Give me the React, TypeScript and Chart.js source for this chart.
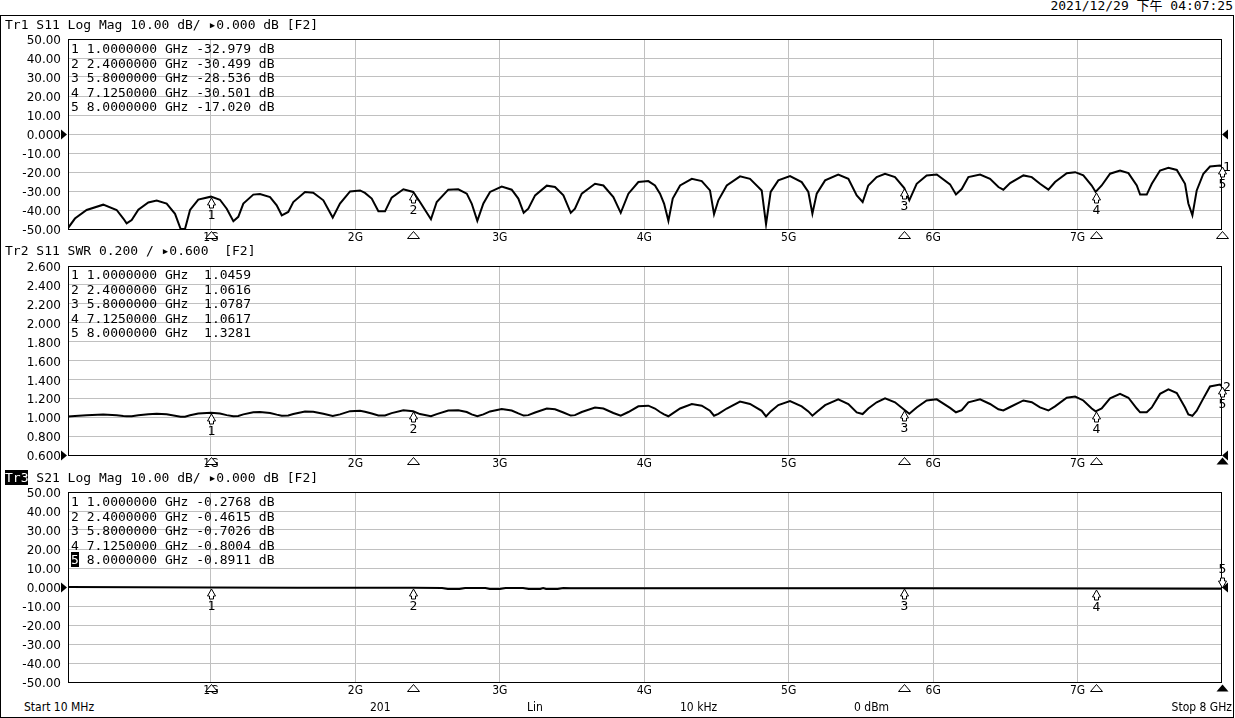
import React, { useEffect, useRef } from "react";
import { Chart, registerables } from "chart.js";

Chart.register(...registerables);

// ---------------- DATA ----------------
// Sweep frequencies (GHz) read off trace 1 / trace 2
const freqGHz = [
  0.01, 0.058, 0.139, 0.254, 0.347, 0.393, 0.416, 0.451, 0.497, 0.566,
  0.624, 0.693, 0.751, 0.79, 0.82, 0.855, 0.912, 1.0, 1.062, 1.109,
  1.155, 1.189, 1.224, 1.293, 1.339, 1.409, 1.455, 1.49, 1.535, 1.57,
  1.651, 1.708, 1.778, 1.843, 1.893, 1.963, 2.032, 2.066, 2.113, 2.159,
  2.205, 2.251, 2.332, 2.4, 2.447, 2.523, 2.563, 2.643, 2.712, 2.771,
  2.805, 2.844, 2.886, 2.932, 3.013, 3.082, 3.128, 3.165, 3.197, 3.244,
  3.325, 3.382, 3.44, 3.491, 3.52, 3.567, 3.659, 3.717, 3.786, 3.837,
  3.89, 3.959, 4.028, 4.074, 4.109, 4.137, 4.167, 4.197, 4.248, 4.329,
  4.398, 4.455, 4.483, 4.513, 4.571, 4.663, 4.732, 4.813, 4.843, 4.875,
  4.928, 5.009, 5.09, 5.136, 5.164, 5.194, 5.252, 5.343, 5.413, 5.471,
  5.512, 5.551, 5.609, 5.667, 5.736, 5.8, 5.835, 5.886, 5.955, 6.025,
  6.117, 6.158, 6.198, 6.244, 6.325, 6.394, 6.452, 6.486, 6.533, 6.625,
  6.683, 6.74, 6.798, 6.844, 6.925, 6.983, 7.04, 7.098, 7.125, 7.167,
  7.225, 7.294, 7.352, 7.41, 7.433, 7.479, 7.514, 7.571, 7.629, 7.687,
  7.744, 7.767, 7.795, 7.825, 7.871, 7.917, 7.986, 8.0,
];

// Tr1: S11 log magnitude (dB)
const s11Db = [
  -49.5, -44.5, -40.0, -37.2, -40.0, -44.5, -47.0, -45.3, -39.8, -36.0,
  -35.0, -36.6, -42.0, -50.0, -50.0, -40.0, -34.5, -32.98, -34.6, -39.3,
  -45.9, -43.6, -36.6, -31.9, -31.6, -33.2, -37.5, -42.8, -41.0, -35.8,
  -30.5, -30.9, -34.9, -44.0, -36.6, -30.2, -29.7, -31.0, -34.0, -40.7,
  -40.7, -33.5, -29.1, -30.5, -35.8, -44.9, -35.8, -29.3, -29.1, -31.4,
  -36.6, -45.7, -36.6, -30.5, -27.7, -29.3, -34.0, -41.5, -39.3, -32.3,
  -27.2, -27.9, -32.3, -41.5, -39.3, -31.4, -26.2, -27.1, -33.2, -41.5,
  -31.4, -25.3, -24.8, -27.1, -31.4, -36.6, -45.7, -34.0, -27.1, -23.6,
  -24.8, -29.7, -42.2, -34.9, -27.1, -22.3, -23.6, -29.7, -47.5, -30.5,
  -24.4, -22.1, -25.3, -30.5, -41.9, -31.4, -24.4, -21.3, -23.6, -32.3,
  -35.8, -27.1, -22.7, -20.9, -22.7, -28.5, -34.9, -26.2, -21.8, -21.3,
  -26.5, -31.8, -29.0, -22.7, -21.3, -23.6, -27.9, -29.3, -25.8, -21.8,
  -22.7, -26.2, -29.3, -25.3, -20.6, -20.1, -21.8, -27.1, -30.5, -27.1,
  -20.9, -19.2, -20.6, -27.1, -31.9, -31.9, -26.2, -19.2, -17.8, -18.9,
  -26.2, -36.6, -42.8, -29.7, -20.9, -17.1, -16.6, -17.02,
];

// Tr2: S11 SWR
const swrVal = [
  1.007, 1.012, 1.02, 1.028, 1.02, 1.012, 1.009, 1.011, 1.021, 1.032,
  1.036, 1.03, 1.016, 1.006, 1.006, 1.02, 1.038, 1.046, 1.038, 1.022,
  1.01, 1.013, 1.03, 1.052, 1.054, 1.045, 1.027, 1.015, 1.018, 1.033,
  1.061, 1.058, 1.036, 1.013, 1.03, 1.064, 1.068, 1.058, 1.04, 1.019,
  1.019, 1.043, 1.073, 1.062, 1.033, 1.011, 1.033, 1.071, 1.073, 1.055,
  1.03, 1.01, 1.03, 1.061, 1.086, 1.071, 1.04, 1.017, 1.022, 1.05,
  1.091, 1.084, 1.05, 1.017, 1.022, 1.055, 1.103, 1.092, 1.045, 1.017,
  1.055, 1.115, 1.122, 1.092, 1.055, 1.03, 1.01, 1.04, 1.092, 1.14,
  1.122, 1.068, 1.016, 1.036, 1.092, 1.166, 1.14, 1.068, 1.008, 1.061,
  1.128, 1.17, 1.115, 1.061, 1.016, 1.055, 1.128, 1.189, 1.14, 1.05,
  1.033, 1.092, 1.158, 1.199, 1.158, 1.079, 1.036, 1.103, 1.177, 1.189,
  1.099, 1.052, 1.074, 1.158, 1.189, 1.14, 1.084, 1.071, 1.108, 1.177,
  1.158, 1.103, 1.071, 1.115, 1.206, 1.219, 1.177, 1.092, 1.062, 1.092,
  1.199, 1.247, 1.206, 1.092, 1.052, 1.052, 1.103, 1.247, 1.295, 1.256,
  1.103, 1.03, 1.015, 1.068, 1.199, 1.325, 1.345, 1.328,
];

// Tr3: S21 log magnitude (dB)
const s21FreqGHz = [
  0.01, 0.5, 1.0, 1.6, 2.4, 2.6, 2.64, 2.72, 2.76, 2.9, 2.93, 3.0, 3.04,
  3.16, 3.2, 3.28, 3.3, 3.32, 3.4, 3.44, 3.49, 4.5, 5.8, 7.125, 8.0,
];
const s21Db = [
  -0.03, -0.15, -0.28, -0.35, -0.46, -0.5, -1.0, -1.0, -0.5, -0.5, -1.0, -1.0, -0.5,
  -0.5, -1.0, -1.0, -0.55, -1.0, -1.0, -0.55, -0.7, -0.68, -0.7, -0.8, -0.89,
];

// Markers
const markerFreqGHz = [1.0, 2.4, 5.8, 7.125, 8.0];
const markerS11 = [-32.979, -30.499, -28.536, -30.501, -17.02];
const markerSwr = [1.0459, 1.0616, 1.0787, 1.0617, 1.3281];
const markerS21 = [-0.2768, -0.4615, -0.7026, -0.8004, -0.8911];

// Axis ticks
const xTickGHz = [1, 2, 3, 4, 5, 6, 7];
const xTickLabels = ["1G", "2G", "3G", "4G", "5G", "6G", "7G"];
const dbTicks = [-50, -40, -30, -20, -10, 0, 10, 20, 30, 40, 50];
const dbTickLabels = ["-50.00", "-40.00", "-30.00", "-20.00", "-10.00", "0.000", "10.00", "20.00", "30.00", "40.00", "50.00"];
const swrTicks = [0.6, 0.8, 1.0, 1.2, 1.4, 1.6, 1.8, 2.0, 2.2, 2.4, 2.6];
const swrTickLabels = ["0.600", "0.800", "1.000", "1.200", "1.400", "1.600", "1.800", "2.000", "2.200", "2.400", "2.600"];

// ---------------- STYLE ----------------
const MONO = "'DejaVu Sans Mono', monospace";
const YFONT = "'DejaVu Sans', sans-serif";
const NARROW = "'Liberation Sans Narrow', 'Arial Narrow', 'DejaVu Sans Condensed', sans-serif";
const GRID = "#c0c0c0";

type PanelOpts = {
  freq: number[];
  vals: number[];
  ticks: number[];
  tickLabels: string[];
  markerVals: number[];
  refValue: number;
  activeIdx: number;
  traceLabel: string;
  filledEnd: boolean;
};

function overlayPlugin(p: PanelOpts) {
  return {
    id: "vnaOverlay",
    afterDraw(chart: any) {
      const { ctx, chartArea } = chart;
      const { left, right, top, bottom } = chartArea;
      const xs = chart.scales.x;
      const ys = chart.scales.y;
      ctx.save();
      ctx.strokeStyle = "#000";
      ctx.lineWidth = 1;
      ctx.strokeRect(left + 0.5, top + 0.5, right - left - 1, bottom - top);

      // reference arrows
      const ry = Math.round(ys.getPixelForValue(p.refValue)) + 0.5;
      ctx.fillStyle = "#000";
      ctx.beginPath();
      ctx.moveTo(left - 7, ry - 5);
      ctx.lineTo(left - 7, ry + 5);
      ctx.lineTo(left - 1, ry);
      ctx.closePath();
      ctx.fill();
      ctx.beginPath();
      ctx.moveTo(right + 6, ry - 5);
      ctx.lineTo(right + 6, ry + 5);
      ctx.lineTo(right, ry);
      ctx.closePath();
      ctx.fill();

      ctx.font = "13px " + MONO;
      ctx.textAlign = "center";
      ctx.textBaseline = "middle";
      markerFreqGHz.forEach((f, i) => {
        const px = Math.round(xs.getPixelForValue(f)) + 0.5;
        const py = Math.round(ys.getPixelForValue(p.markerVals[i]));
        const dir = i === p.activeIdx ? -1 : 1;
        // marker pin
        ctx.beginPath();
        ctx.moveTo(px, py + dir * 1);
        ctx.lineTo(px + 4, py + dir * 8);
        ctx.lineTo(px + 2, py + dir * 8);
        ctx.lineTo(px + 2, py + dir * 11);
        ctx.lineTo(px - 2, py + dir * 11);
        ctx.lineTo(px - 2, py + dir * 8);
        ctx.lineTo(px - 4, py + dir * 8);
        ctx.closePath();
        ctx.fillStyle = "#fff";
        ctx.fill();
        ctx.strokeStyle = "#000";
        ctx.stroke();
        ctx.fillStyle = "#000";
        ctx.fillText(String(i + 1), px, py + dir * 19);

        // axis triangle
        const by = bottom + 9.5;
        ctx.beginPath();
        ctx.moveTo(px, bottom + 2.5);
        ctx.lineTo(px + 6, by);
        ctx.lineTo(px - 6, by);
        ctx.closePath();
        if (i === p.activeIdx || (p.filledEnd && i === 4)) {
          ctx.fillStyle = "#000";
          ctx.fill();
        } else {
          ctx.fillStyle = "#fff";
          ctx.fill();
          ctx.stroke();
        }
      });

      if (p.traceLabel) {
        const ey = ys.getPixelForValue(p.markerVals[4]);
        ctx.fillStyle = "#000";
        ctx.textAlign = "left";
        ctx.fillText(p.traceLabel, right + 1, ey + 1);
      }
      ctx.restore();
    },
  };
}

function makeConfig(p: PanelOpts): any {
  return {
    type: "line",
    data: {
      datasets: [
        {
          data: p.freq.map((f, i) => ({ x: f, y: p.vals[i] })),
          borderColor: "#000",
          borderWidth: 2,
          pointRadius: 0,
          tension: 0,
          fill: false,
        },
      ],
    },
    options: {
      animation: false,
      responsive: false,
      maintainAspectRatio: false,
      events: [],
      layout: { padding: { left: 0, right: 13, top: 24, bottom: 0 } },
      plugins: { legend: { display: false }, tooltip: { enabled: false }, title: { display: false } },
      scales: {
        x: {
          type: "linear",
          min: 0.01,
          max: 8,
          afterBuildTicks: (s: any) => {
            s.ticks = xTickGHz.map((v) => ({ value: v }));
          },
          afterFit: (s: any) => {
            s.height = 16;
          },
          grid: { color: GRID, drawTicks: false, lineWidth: 1 },
          border: { display: false },
          ticks: {
            autoSkip: false,
            maxRotation: 0,
            padding: 2,
            color: "#000",
            font: { family: NARROW, size: 12 },
            callback: (v: number) => xTickLabels[xTickGHz.indexOf(v)],
          },
        },
        y: {
          type: "linear",
          min: p.ticks[0],
          max: p.ticks[p.ticks.length - 1],
          afterBuildTicks: (s: any) => {
            s.ticks = p.ticks.map((v) => ({ value: v }));
          },
          afterFit: (s: any) => {
            s.width = 68;
          },
          grid: { color: GRID, drawTicks: false, lineWidth: 1 },
          border: { display: false },
          ticks: {
            autoSkip: false,
            padding: 7,
            labelOffset: 2,
            color: "#000",
            font: { family: YFONT, size: 12 },
            callback: (_v: number, i: number) => p.tickLabels[i],
          },
        },
      },
    },
    plugins: [overlayPlugin(p)],
  };
}

const panels: { top: number; height: number; opts: PanelOpts }[] = [
  {
    top: 15,
    height: 230,
    opts: {
      freq: freqGHz, vals: s11Db, ticks: dbTicks, tickLabels: dbTickLabels,
      markerVals: markerS11, refValue: 0, activeIdx: -1, traceLabel: "1", filledEnd: false,
    },
  },
  {
    top: 242,
    height: 229,
    opts: {
      freq: freqGHz, vals: swrVal, ticks: swrTicks, tickLabels: swrTickLabels,
      markerVals: markerSwr, refValue: 0.6, activeIdx: -1, traceLabel: "2", filledEnd: true,
    },
  },
  {
    top: 468,
    height: 230,
    opts: {
      freq: s21FreqGHz, vals: s21Db, ticks: dbTicks, tickLabels: dbTickLabels,
      markerVals: markerS21, refValue: 0, activeIdx: 4, traceLabel: "", filledEnd: true,
    },
  },
];

function PanelCanvas({ top, height, opts }: { top: number; height: number; opts: PanelOpts }) {
  const ref = useRef<HTMLCanvasElement | null>(null);
  useEffect(() => {
    if (!ref.current) return;
    const chart = new Chart(ref.current, makeConfig(opts));
    return () => chart.destroy();
  }, []);
  return (
    <canvas
      ref={ref}
      width={1235}
      height={height}
      style={{ position: "absolute", left: 0, top, width: 1235, height }}
    />
  );
}

const txt: React.CSSProperties = {
  position: "absolute",
  fontFamily: MONO + ", 'Noto Sans CJK TC'",
  fontSize: 13,
  lineHeight: "14px",
  whiteSpace: "pre",
  color: "#000",
};

const foot: React.CSSProperties = {
  position: "absolute",
  fontFamily: NARROW,
  fontSize: 12,
  lineHeight: "14px",
  whiteSpace: "pre",
  color: "#000",
  top: 700,
};

function fmtFreq(f: number) {
  return f.toFixed(7);
}

export default function App() {
  const s11Rows = markerFreqGHz.map((f, i) => `${i + 1} ${fmtFreq(f)} GHz ${markerS11[i].toFixed(3)} dB`);
  const swrRows = markerFreqGHz.map((f, i) => `${i + 1} ${fmtFreq(f)} GHz  ${markerSwr[i].toFixed(4)}`);
  const s21Rows = markerFreqGHz.map((f, i) => `${fmtFreq(f)} GHz ${markerS21[i].toFixed(4)} dB`);
  return (
    <div
      style={{
        position: "absolute",
        left: 0,
        top: 0,
        width: 1235,
        height: 718,
        background: "#fff",
        overflow: "hidden",
      }}
    >
      <div
        style={{
          position: "absolute",
          left: 0,
          top: 15,
          width: 1232,
          height: 701,
          border: "1px solid #000",
        }}
      />
      {panels.map((p, i) => (
        <PanelCanvas key={i} top={p.top} height={p.height} opts={p.opts} />
      ))}

      <div style={{ ...txt, right: 2, top: -1 }}>2021/12/29 下午 04:07:25</div>

      <div style={{ ...txt, left: 5, top: 18 }}>Tr1 S11 Log Mag 10.00 dB/ ▸0.000 dB [F2]</div>
      <div style={{ ...txt, left: 5, top: 244 }}>Tr2 S11 SWR 0.200 / ▸0.600  [F2]</div>
      <div style={{ ...txt, left: 5, top: 471 }}>
        <span style={{ background: "#000", color: "#fff" }}>Tr3</span> S21 Log Mag 10.00 dB/ ▸0.000 dB [F2]
      </div>

      <div style={{ ...txt, left: 71, top: 42, lineHeight: "14.5px" }}>
        {s11Rows.map((r, i) => (
          <div key={i}>{r}</div>
        ))}
      </div>
      <div style={{ ...txt, left: 71, top: 268, lineHeight: "14.5px" }}>
        {swrRows.map((r, i) => (
          <div key={i}>{r}</div>
        ))}
      </div>
      <div style={{ ...txt, left: 71, top: 495, lineHeight: "14.5px" }}>
        {s21Rows.map((r, i) => (
          <div key={i}>
            {i === 4 ? <span style={{ background: "#000", color: "#fff" }}>{i + 1}</span> : String(i + 1)} {r}
          </div>
        ))}
      </div>

      <div style={{ ...foot, left: 24 }}>Start 10 MHz</div>
      <div style={{ ...foot, left: 370 }}>201</div>
      <div style={{ ...foot, left: 527 }}>Lin</div>
      <div style={{ ...foot, left: 680 }}>10 kHz</div>
      <div style={{ ...foot, left: 854 }}>0 dBm</div>
      <div style={{ ...foot, right: 3 }}>Stop 8 GHz</div>
    </div>
  );
}
